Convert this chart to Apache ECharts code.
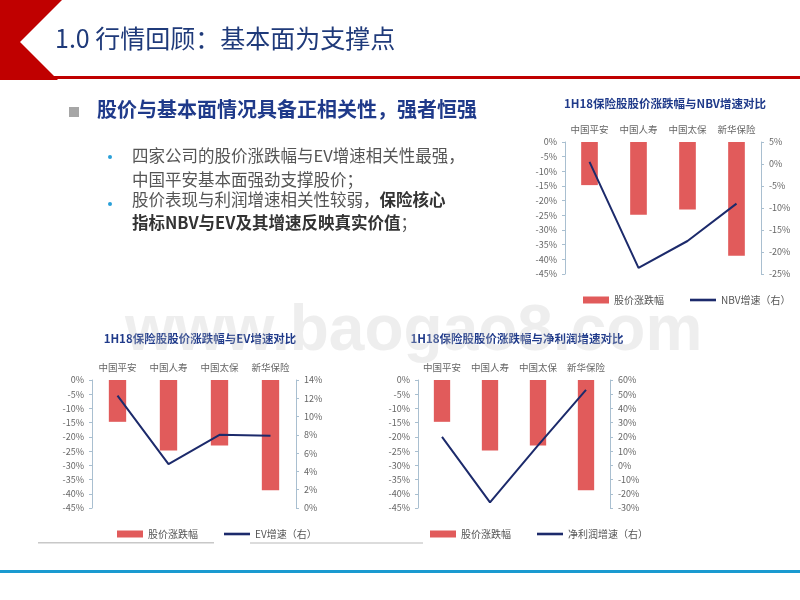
<!DOCTYPE html>
<html><head><meta charset="utf-8">
<script src="https://cdn.jsdelivr.net/npm/echarts@6/dist/echarts.min.js"></script>
<style>body{margin:0}#c{width:800px;height:600px}</style></head>
<body><div id="c"></div>
<script>
const categories = ['中国平安','中国人寿','中国太保','新华保险'];
const priceChange = [-14.7, -24.8, -23.0, -38.8];
const nbvGrowth = [0.5, -23.6, -17.5, -9.0];
const evGrowth = [12.3, 4.8, 8.0, 7.9];
const profitGrowth = [20, -26, 14, 53];

const F = '"Noto Sans CJK SC", sans-serif';
const chart = echarts.init(document.getElementById('c'));
const grids = [
  {left:565, top:142, width:196, height:132},
  {left:92, top:380, width:204, height:128},
  {left:418, top:380, width:192, height:128}
];
const rightAxes = [
  {min:-25, max:5, interval:5},
  {min:0, max:14, interval:2},
  {min:-30, max:60, interval:10}
];
const lineData = [nbvGrowth, evGrowth, profitGrowth];
const lineNames = ['NBV增速（右）','EV增速（右）','净利润增速（右）'];
const titles = ['1H18保险股股价涨跌幅与NBV增速对比','1H18保险股股价涨跌幅与EV增速对比','1H18保险股股价涨跌幅与净利润增速对比'];
const titleX = [660, 195, 512], titleY = [93, 328, 328];
const legendY = [290, 524, 524], legendX = [578, 112, 425];
const axLabel = {color:'#666', fontSize:9, fontFamily:F};
const axLine = {show:true, lineStyle:{color:'#a9bfd0'}};
const xAxis=[], yAxis=[], series=[], legend=[], title=[];
for (let i=0;i<3;i++){
  xAxis.push({type:'category', gridIndex:i, data:categories, position:'top',
    axisLine:{show:false}, axisTick:{show:false}, axisLabel:{...axLabel, fontSize:9.5, margin:8, interval:0, hideOverlap:false}});
  yAxis.push({type:'value', gridIndex:i, min:-45, max:0, interval:5, splitLine:{show:false},
    axisLine:axLine, axisTick:{show:true, length:3, lineStyle:{color:'#a9bfd0'}}, axisLabel:{...axLabel, formatter:'{value}%'}});
  yAxis.push({type:'value', gridIndex:i, position:'right', ...rightAxes[i], splitLine:{show:false},
    axisLine:axLine, axisTick:{show:true, length:3, lineStyle:{color:'#a9bfd0'}}, axisLabel:{...axLabel, formatter:'{value}%'}});
  series.push({name:'股价涨跌幅', type:'bar', xAxisIndex:i, yAxisIndex:2*i, data:priceChange, barWidth:'34%', itemStyle:{color:'#e15b5b'}});
  series.push({name:lineNames[i], type:'line', xAxisIndex:i, yAxisIndex:2*i+1, data:lineData[i], symbol:'none', lineStyle:{color:'#1c2a6b', width:2}, itemStyle:{color:'#1c2a6b'}});
  legend.push({left:legendX[i], top:legendY[i], itemGap:26, itemWidth:26, itemHeight:7,
    data:[{name:'股价涨跌幅', icon:'rect'},{name:lineNames[i], icon:'path://M0,0H30V3H0Z'}],
    textStyle:{color:'#555', fontSize:10, fontFamily:F}});
  title.push({text:titles[i], left:titleX[i], top:titleY[i], textAlign:'center', textStyle:{color:'#1f3a8a', fontSize:11.5, fontWeight:'bold', fontFamily:F}});
}
const g = [
  {type:'polygon', shape:{points:[[0,0],[62,0],[20,42],[58,80],[0,80]]}, style:{fill:'#c00000'}},
  {type:'rect', shape:{x:18,y:76,width:782,height:3}, style:{fill:'#c00000'}},
  {type:'text', left:55, top:26, style:{text:'1.0 行情回顾：基本面为支撑点', fill:'#1f3a7a', font:'25px '+F}},
  {type:'rect', shape:{x:69,y:107,width:10,height:10}, style:{fill:'#a6a6a6'}},
  {type:'text', left:97, top:99, style:{text:'股价与基本面情况具备正相关性，强者恒强', fill:'#1f3a8a', font:'bold 20px '+F}},
  {type:'circle', shape:{cx:110,cy:157,r:2}, style:{fill:'#2aa0d8'}},
  {type:'circle', shape:{cx:110,cy:204,r:2}, style:{fill:'#2aa0d8'}},
  {type:'text', left:132, top:144, style:{text:'四家公司的股价涨跌幅与EV增速相关性最强，\n中国平安基本面强劲支撑股价；', fill:'#555', font:'16.5px '+F, lineHeight:23.5}},
  {type:'text', left:132, top:191, style:{rich:{n:{fill:'#555',font:'16.5px '+F, lineHeight:23.5},b:{fill:'#333',font:'bold 16.5px '+F, lineHeight:23.5}}, text:'{n|股价表现与利润增速相关性较弱，}{b|保险核心}\n{b|指标NBV与EV及其增速反映真实价值}{n|；}'}},
  {type:'rect', shape:{x:38,y:542,width:176,height:1.5}, style:{fill:'#c8c8c8'}},
  {type:'rect', shape:{x:250,y:542,width:173,height:2}, style:{fill:'#dcdcdc'}},
  {type:'rect', shape:{x:0,y:570,width:800,height:3}, style:{fill:'#1a9ad0'}},
  {type:'text', left:125, top:300, z:100, style:{text:'www.baogao8.com', fill:'rgba(200,200,200,0.3)', font:'bold 64px Arial'}}
];
chart.setOption({animation:false, title, grid:grids, xAxis, yAxis, series, legend, graphic:g});
</script></body></html>
